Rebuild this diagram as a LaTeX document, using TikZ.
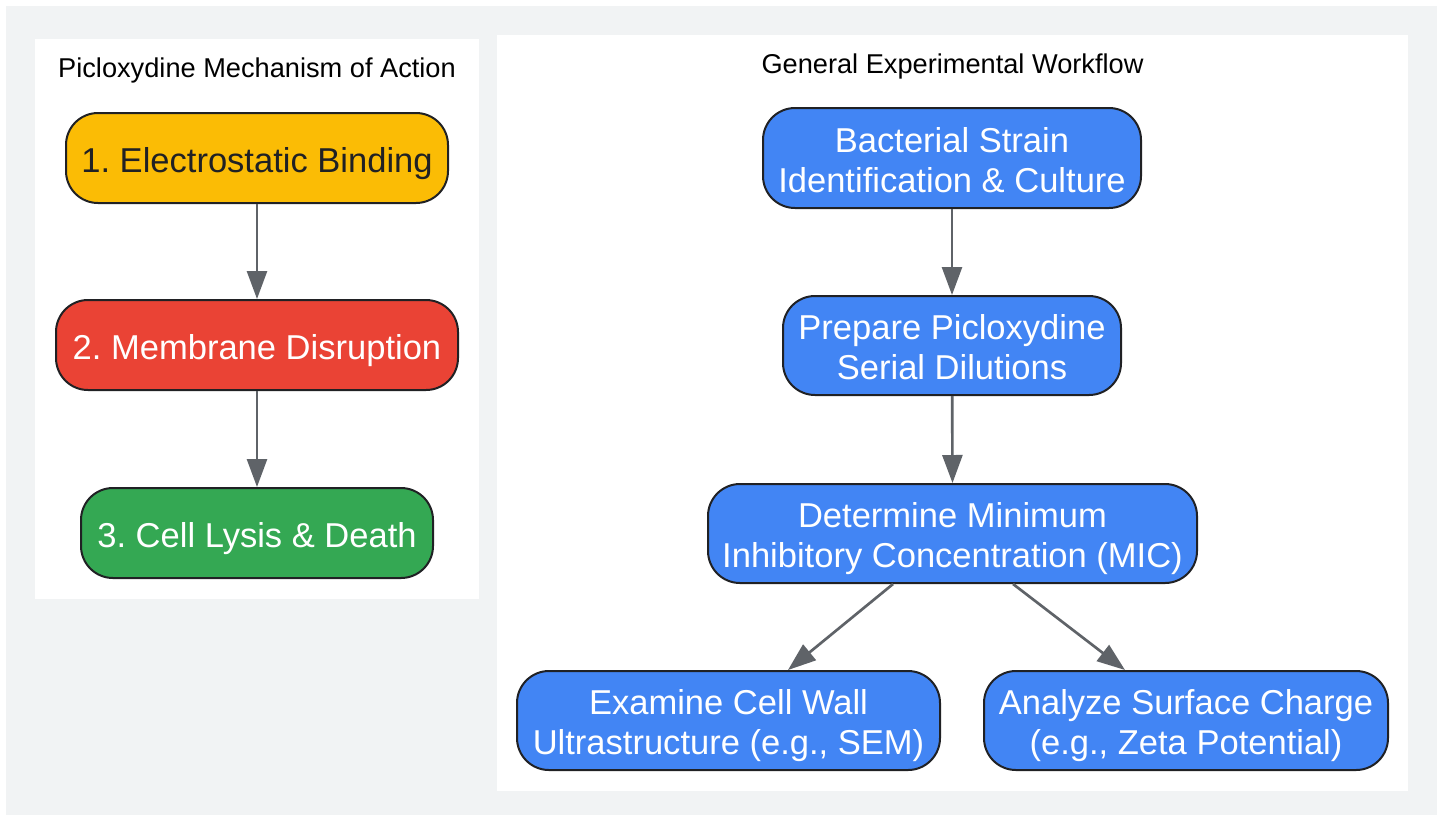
\documentclass[tikz,border=0pt]{standalone}
\usepackage{fontspec}
\setmainfont{Liberation Sans}
\usetikzlibrary{arrows.meta}
\definecolor{bggray}{HTML}{F1F3F4}
\definecolor{gyellow}{HTML}{FBBC05}
\definecolor{gred}{HTML}{EA4335}
\definecolor{ggreen}{HTML}{34A853}
\definecolor{gblue}{HTML}{4285F4}
\definecolor{dark}{HTML}{202124}
\definecolor{edgegray}{HTML}{5F6368}
\newcommand{\twoline}[2]{\begin{tabular}[t]{@{}c@{}}#1\\#2\end{tabular}}
\tikzset{
  box/.style={draw=dark, line width=1.5pt, rounded corners=24pt, inner sep=0pt,
    font=\fontsize{25.9pt}{30pt}\selectfont\frenchspacing},
  onebox/.style={box, text height=21.6pt, text depth=0pt},
  twobox/.style={box, text height=0pt, text depth=8.4pt},
  title/.style={font=\fontsize{20.4pt}{24pt}\selectfont, text=black, inner sep=0pt},
  conn/.style={draw=edgegray, line width=2pt, -{Triangle[length=21pt,width=15pt]}},
}
\begin{document}
\begin{tikzpicture}[x=0.75pt,y=-0.75pt]
\useasboundingbox (0,0) rectangle (1445,815);
\fill[white] (0,0) rectangle (1445,815);
\fill[bggray] (6,6) rectangle (1437,815);
\fill[white] (35,39) rectangle (479,599);
\fill[white] (497,35) rectangle (1408,791);
\node[title] (t1) at (257,70) {Picloxydine Mechanism of Action};
\node[title] (t2) at (952.5,66) {General Experimental Workflow};
\node[onebox, fill=gyellow, text=dark, minimum width=286.5pt, minimum height=67.5pt] (n1) at (257,158) {1. Electrostatic Binding};
\node[onebox, fill=gred, text=white, minimum width=301.5pt, minimum height=67.5pt] (n2) at (257,345) {2. Membrane Disruption};
\node[onebox, fill=ggreen, text=white, minimum width=264pt, minimum height=67.5pt] (n3) at (257,533) {3. Cell Lysis \& Death};
\node[twobox, fill=gblue, text=white, minimum width=283.5pt, minimum height=75pt] (b1) at (952,158) {\twoline{Bacterial Strain}{Identification \& Culture}};
\node[twobox, fill=gblue, text=white, minimum width=253.5pt, minimum height=74.25pt] (b2) at (952,345.5) {\twoline{Prepare Picloxydine}{Serial Dilutions}};
\node[twobox, fill=gblue, text=white, minimum width=366.75pt, minimum height=74.25pt] (b3) at (952.5,533.5) {\twoline{Determine Minimum}{Inhibitory Concentration (MIC)}};
\node[twobox, fill=gblue, text=white, minimum width=317.25pt, minimum height=74.25pt] (b4) at (728.5,720.5) {\twoline{Examine Cell Wall}{Ultrastructure (e.g., SEM)}};
\node[twobox, fill=gblue, text=white, minimum width=303pt, minimum height=74.25pt] (b5) at (1186,720.5) {\twoline{Analyze Surface Charge}{(e.g., Zeta Potential)}};
\draw[conn] (n1) -- (n2);
\draw[conn] (n2) -- (n3);
\draw[conn] (b1) -- (b2);
\draw[conn] (b2) -- (b3.north);
\draw[conn] ([xshift=-44.6pt]b3.south) -- ([xshift=44.6pt]b4.north);
\draw[conn] ([xshift=45.4pt]b3.south) -- ([xshift=-45.75pt]b5.north);
\end{tikzpicture}
\end{document}
